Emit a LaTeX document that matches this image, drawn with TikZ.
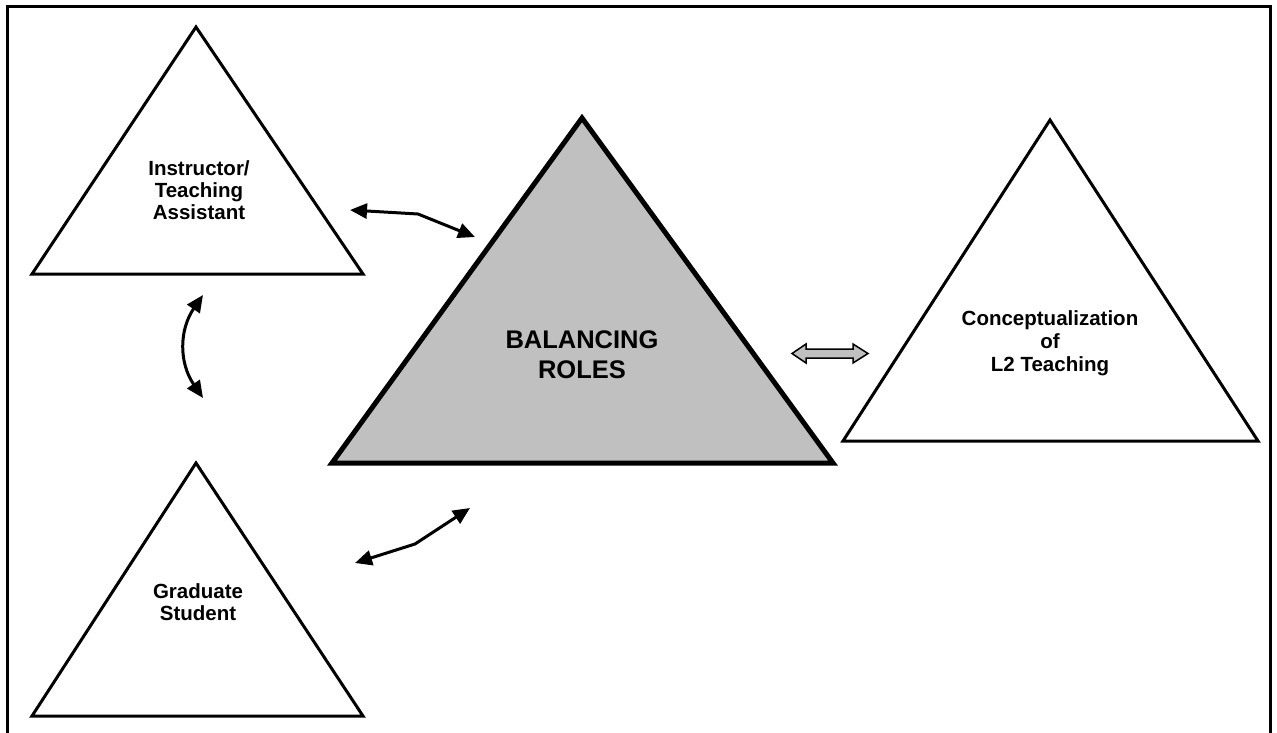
\documentclass[tikz,border=0pt]{standalone}
\usepackage{fontspec}
\setmainfont{Liberation Sans}
\usetikzlibrary{arrows.meta}
\definecolor{roleGray}{HTML}{C0C0C0}
\tikzset{
  tri/.style={draw=black, line width=3pt, fill=white},
  maintri/.style={draw=black, line width=5pt, fill=roleGray},
  lbl/.style={align=center, inner sep=0pt, font=\bfseries\fontsize{20.5}{22}\selectfont},
  biglbl/.style={align=center, inner sep=0pt, font=\bfseries\fontsize{25.5}{30}\selectfont},
  link/.style={line width=3pt, {Triangle[length=17pt,width=15pt]}-{Triangle[length=17pt,width=15pt]}},
  blockarrow/.style={draw=black, line width=1.5pt, fill=roleGray, line join=miter},
}
\begin{document}
\begin{tikzpicture}[x=1pt, y=-1pt]
\useasboundingbox (0,0) rectangle (1277,732);
\fill[white] (0,0) rectangle (1277,732);

% outer frame (open at the bottom)
\draw[line width=3pt] (7,740) -- (7,6) -- (1270,6) -- (1270,740);

% triangles
\draw[tri] (196,27) -- (32,274) -- (363,274) -- cycle;
\draw[tri] (196,463) -- (32,716) -- (363,716) -- cycle;
\draw[maintri] (582,118) -- (332,463) -- (833,463) -- cycle;
\draw[tri] (1050,120) -- (843,441) -- (1258,441) -- cycle;

% labels
\node[lbl] (ita) at (199,190) {Instructor/\\Teaching\\Assistant};
\node[lbl] (gs) at (198,602) {Graduate\\Student};
\node[biglbl] (br) at (582,355) {BALANCING\\ROLES};
\node[lbl, font=\bfseries\fontsize{20.5}{23}\selectfont] (cl) at (1050,343) {Conceptualization\\of\\L2 Teaching};

% connector end points
\coordinate (a1s) at (350,210);
\coordinate (a1m) at (418,214);
\coordinate (a1e) at (475,237);
\coordinate (a2s) at (203,295);
\coordinate (a2e) at (203,398);
\coordinate (a3s) at (355,563);
\coordinate (a3m) at (415,544);
\coordinate (a3e) at (470,508);

\draw[link] (a1s) -- (a1m) -- (a1e);
\draw[link] (a2s) .. controls (179,330) and (179,363) .. (a2e);
\draw[link] (a3s) -- (a3m) -- (a3e);

% gray two-headed block arrow
\draw[blockarrow] (792,353.5) -- (806,344) -- (806,349) -- (853,349) -- (853,344)
  -- (868,353.5) -- (853,363) -- (853,358) -- (806,358) -- (806,363) -- cycle;
\end{tikzpicture}
\end{document}
